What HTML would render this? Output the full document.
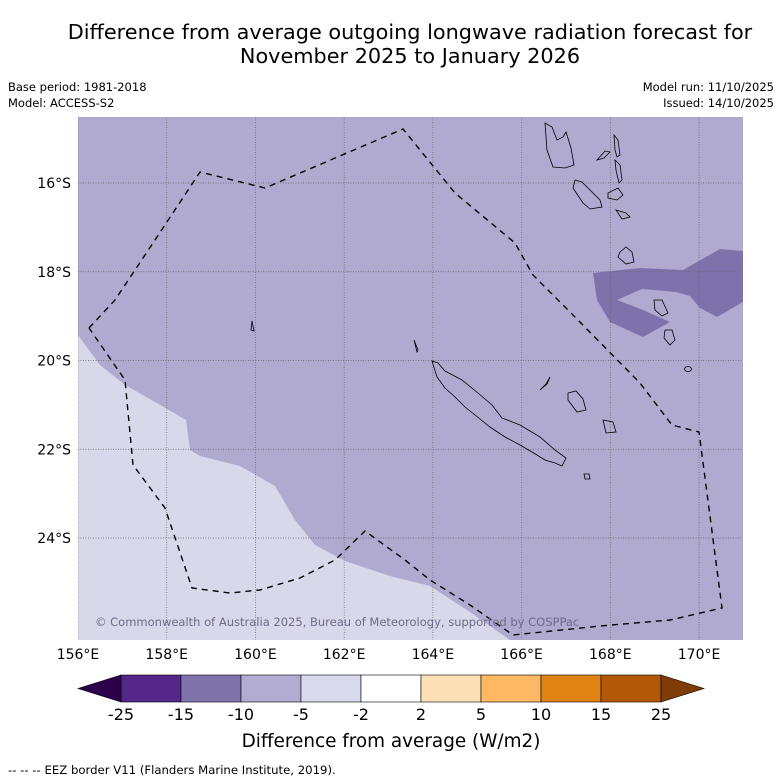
<!DOCTYPE html>
<html><head><meta charset="utf-8"><style>
body{margin:0;background:#fff;width:781px;height:781px;overflow:hidden;font-family:"DejaVu Sans","Liberation Sans",sans-serif}
svg{position:absolute;left:0;top:0}
</style></head><body>
<svg id="s" width="781" height="781" xmlns="http://www.w3.org/2000/svg">
<text x="410" y="39" font-size="20.8" text-anchor="middle">Difference from average outgoing longwave radiation forecast for</text>
<text x="410" y="63" font-size="20.8" text-anchor="middle">November 2025 to January 2026</text>
<text x="8" y="91" font-size="11.5">Base period: 1981-2018</text>
<text x="8" y="107" font-size="11.5">Model: ACCESS-S2</text>
<text x="774" y="91" font-size="11.5" text-anchor="end">Model run: 11/10/2025</text>
<text x="774" y="107" font-size="11.5" text-anchor="end">Issued: 14/10/2025</text>
<defs><clipPath id="mc"><rect x="78" y="117" width="665" height="523"/></clipPath></defs>
<g clip-path="url(#mc)">
<rect x="78" y="117" width="665" height="523" fill="#b0aad1"/>
<polygon fill="#d8d8ea" points="78,335 100,365 125,385 155,402 186,420 190,450 200,456 240,466 275,486 295,520 315,545 345,561 390,576 430,586 470,612 510,640 78,640"/>
<polygon fill="#7f72ac" points="593,273 597,300 610,322 643,337 670,322 643,310 617,300 642,289 676,292 690,296 700,308 717,317 743,302 743,251 720,249 683,270 640,268"/>
<g id="grid"></g>
<g fill="none" stroke="#000" stroke-width="0.8">
<path d="M432,361 L438,363 L445,371 L462,380 L478,393 L492,405 L502,418 L520,425 L540,437 L555,450 L566,458 L562,466 L555,463 L545,460 L532,452 L520,445 L505,437 L490,427 L475,415 L465,407 L455,397 L445,388 L437,377 Z"/>
<path d="M545,123 L552,127 L557,140 L563,137 L566,132 L571,148 L574,165 L565,168 L553,167 L547,150 Z"/>
<path d="M575,180 L582,182 L590,190 L600,200 L602,207 L590,209 L583,203 L573,188 Z"/>
<path d="M614,135 L618,140 L620,155 L617,157 L615,150 Z"/>
<path d="M615,160 L620,165 L622,180 L619,183 L616,170 Z"/>
<path d="M597,160 L605,151 L610,152 L604,158 Z"/>
<path d="M608,193 L618,188 L623,195 L617,200 L608,198 Z"/>
<path d="M616,210 L626,213 L630,217 L622,219 Z"/>
<path d="M620,252 L626,247 L632,252 L634,262 L626,264 L618,257 Z"/>
<path d="M654,300 L662,300 L668,313 L662,316 L655,310 Z"/>
<path d="M665,330 L672,330 L675,340 L670,345 L664,338 Z"/>
<path d="M568,393 L576,391 L583,399 L586,410 L577,412 L568,400 Z"/>
<path d="M603,420 L613,422 L616,432 L606,433 Z"/>
<path d="M540,390 L546,384 L550,377 L547,384 Z"/>
<path d="M584,474 L589,474 L590,479 L585,479 Z"/>
<ellipse cx="688" cy="369" rx="3.5" ry="2.5"/>
<path d="M252,321 L254,331 L251,330 Z"/>
<path d="M414,340 L418,350 L417,352 Z"/>
</g>
<polyline fill="none" stroke="#000" stroke-width="1.4" stroke-dasharray="6,5" points="89,328 115,300 155,240 200,172 265,188 403,129 455,193 515,243 533,275 575,317 640,383 672,425 699,432 722,608 670,620 600,626 513,635 470,605 430,580 405,560 365,531 335,560 300,578 260,590 230,593 192,588 165,508 133,465 125,380 89,328"/>
<text x="95" y="626" font-size="11.5" fill="#6e6a8a">© Commonwealth of Australia 2025, Bureau of Meteorology, supported by COSPPac</text>
</g>
<g id="axes"></g>
<g id="cbar"></g>
<text x="391" y="747" font-size="18.4" text-anchor="middle">Difference from average (W/m2)</text>
<text x="8" y="774" font-size="11.7">--  --  -- EEZ border V11 (Flanders Marine Institute, 2019).</text>
</svg>
<script>
const lonTicks=[156,158,160,162,164,166,168,170];
const latTicks=[16,18,20,22,24];
const cbBounds=[-25,-15,-10,-5,-2,2,5,10,15,25];
const cbColors=['#542788','#8073ac','#b2abd2','#d8daeb','#ffffff','#fee0b6','#fdb863','#e08214','#b35806'];
const cbLowColor='#2d004b', cbHighColor='#7f3b08';
const NS='http://www.w3.org/2000/svg';
const lonX=l=>78+(l-156)*44.36;
const latY=l=>183+(l-16)*44.375;
function mk(t,a,p){const e=document.createElementNS(NS,t);for(const k in a)e.setAttribute(k,a[k]);p.appendChild(e);return e;}
const grid=document.getElementById('grid'),axes=document.getElementById('axes'),cb=document.getElementById('cbar');
lonTicks.forEach(l=>{const x=lonX(l);
 const g=mk('line',{x1:x,x2:x,y1:117,y2:640,stroke:'#666','stroke-width':0.7,'stroke-dasharray':'1,1.5'},grid);
 
 
 const t=mk('text',{x:x,y:659,'font-size':14,'text-anchor':'middle'},axes);t.textContent=l+'°E';
 
 
});
latTicks.forEach(l=>{const y=latY(l);
 const g=mk('line',{x1:78,x2:743,y1:y,y2:y,stroke:'#666','stroke-width':0.7,'stroke-dasharray':'1,1.5'},grid);
 
 
 const t=mk('text',{x:71,y:y+5,'font-size':14,'text-anchor':'end'},axes);t.textContent=l+'°S';
 
 
});
const cx0=121,segW=60,cy=675,ch=27;
const n=cbColors.length;
cbColors.forEach((c,i)=>{const r=mk('rect',{x:cx0+i*segW,y:cy,width:segW,height:ch,fill:c,stroke:'#000','stroke-width':0.6},cb);
 
 
});
const lo=mk('polygon',{points:`${cx0},${cy} ${cx0-43},${cy+ch/2} ${cx0},${cy+ch}`,fill:cbLowColor,stroke:'#000','stroke-width':0.6},cb);


const xe=cx0+n*segW;
const hi=mk('polygon',{points:`${xe},${cy} ${xe+43},${cy+ch/2} ${xe},${cy+ch}`,fill:cbHighColor,stroke:'#000','stroke-width':0.6},cb);


cbBounds.forEach((b,i)=>{const t=mk('text',{x:cx0+i*segW,y:720,'font-size':16,'text-anchor':'middle'},cb);t.textContent=b;
 
 
});
</script>
</body></html>
